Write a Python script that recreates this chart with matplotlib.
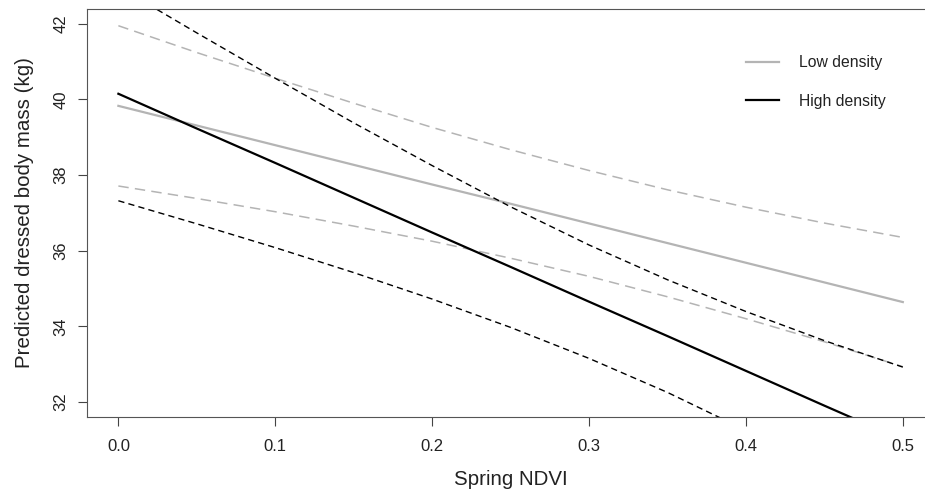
import matplotlib
matplotlib.use("Agg")
import matplotlib.pyplot as plt

plt.rcParams['font.family'] = ['Liberation Sans', 'DejaVu Sans']
plt.rcParams['lines.scale_dashes'] = False

# spring NDVI grid the predictions were read at
ndvi = [0.00, 0.05, 0.10, 0.15, 0.20, 0.25, 0.30, 0.35, 0.40, 0.45, 0.50]

# low density: fit and 95% band
low_fit = [39.83, 39.31, 38.79, 38.27, 37.75, 37.24, 36.72, 36.20, 35.68, 35.16, 34.64]
low_upper = [41.95, 41.24, 40.56, 39.90, 39.26, 38.67, 38.12, 37.61, 37.15, 36.73, 36.35]
low_lower = [37.71, 37.38, 37.03, 36.65, 36.25, 35.80, 35.32, 34.78, 34.20, 33.59, 32.93]

# high density: fit and 95% band
high_fit = [40.15, 39.23, 38.32, 37.40, 36.48, 35.57, 34.65, 33.74, 32.82, 31.90, 30.99]
high_upper = [42.98, 41.76, 40.56, 39.38, 38.25, 37.16, 36.15, 35.23, 34.39, 33.62, 32.92]
high_lower = [37.32, 36.71, 36.08, 35.42, 34.72, 33.97, 33.15, 32.25, 31.25, 30.18, 29.05]

xticks = [0.0, 0.1, 0.2, 0.3, 0.4, 0.5]
yticks = [32, 34, 36, 38, 40, 42]

grey = '#b4b4b4'

fig = plt.figure(figsize=(9.25, 4.97), dpi=100)
ax = fig.add_axes([87/925, 80/497, 847.2/925, 408.3/497])

ax.plot(ndvi, low_fit, color=grey, lw=1.6, label='Low density')
ax.plot(ndvi, low_upper, color=grey, lw=1.1, dashes=(7.5, 4.5))
ax.plot(ndvi, low_lower, color=grey, lw=1.1, dashes=(7.5, 4.5))

ax.plot(ndvi, high_fit, color='black', lw=1.6, label='High density')
ax.plot(ndvi, high_upper, color='black', lw=1.0, dashes=(4.5, 3))
ax.plot(ndvi, high_lower, color='black', lw=1.0, dashes=(4.5, 3))

ax.set_xlim(-0.02, 0.52)
ax.set_ylim(31.6, 42.4)
ax.set_xticks(xticks)
ax.set_xticklabels(['%.1f' % t for t in xticks], fontsize=12, color='#222222')
ax.set_yticks(yticks)
ax.set_yticklabels([str(t) for t in yticks], fontsize=12, color='#222222',
                   rotation=90, va='center')
ax.tick_params(direction='out', length=6.5, width=0.8, color='#444444')
ax.tick_params(axis='x', pad=9)
ax.tick_params(axis='y', pad=7)

for s in ax.spines.values():
    s.set_color('#555555')
    s.set_linewidth(0.8)
ax.spines['right'].set_visible(False)

ax.set_xlabel('Spring NDVI', fontsize=14.8, color='#222222')
ax.xaxis.set_label_coords(0.5, -0.13)
ax.set_ylabel('Predicted dressed body mass (kg)', fontsize=14.8, color='#222222')
ax.yaxis.set_label_coords(-0.0626, 0.5)

leg = ax.legend(loc='upper left', bbox_to_anchor=(745.7/925, 1 - 55/497),
                bbox_transform=fig.transFigure, frameon=False, fontsize=11.3,
                handlelength=2.1, handletextpad=1.3, labelspacing=1.5,
                borderpad=0, borderaxespad=0)
for t in leg.get_texts():
    t.set_color('#222222')

fig.savefig('out.png', dpi=100)
